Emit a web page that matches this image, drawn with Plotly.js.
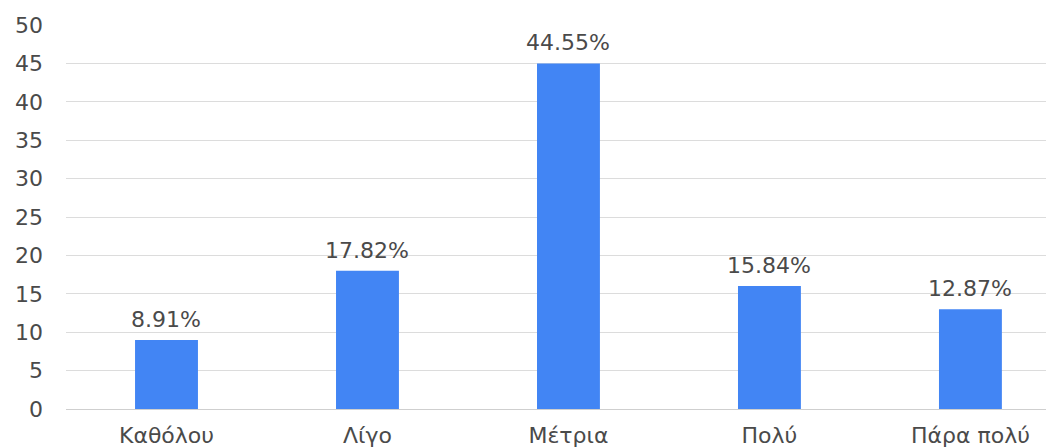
<!DOCTYPE html>
<html>
<head>
<meta charset="utf-8">
<script src="https://cdn.plot.ly/plotly-3.0.1.min.js"></script>
<style>html,body{margin:0;padding:0;overflow:hidden;background:#fff;}#chart{width:1046px;height:447px;}</style>
</head>
<body>
<div id="chart"></div>
<script>
const categories = ["Καθόλου", "Λίγο", "Μέτρια", "Πολύ", "Πάρα πολύ"];
const counts = [9, 18, 45, 16, 13];
const percentLabels = ["8.91%", "17.82%", "44.55%", "15.84%", "12.87%"];
const yTicks = [0, 5, 10, 15, 20, 25, 30, 35, 40, 45, 50];

const font = "DejaVu Sans, Arial, sans-serif";
const textColor = "#4a4a4a";

const trace = {
  type: "bar",
  x: categories,
  y: counts,
  marker: {color: "#4285F4"},
  hoverinfo: "none"
};

const annotations = categories.map((c, i) => ({
  x: c, y: counts[i], xref: "x", yref: "y",
  text: percentLabels[i], showarrow: false,
  yanchor: "bottom", yshift: 6,
  font: {family: font, size: 22, color: textColor}
}));

const layout = {
  width: 1046, height: 447,
  margin: {l: 66, r: 0, t: 25, b: 38},
  paper_bgcolor: "#fff", plot_bgcolor: "#fff",
  showlegend: false,
  bargap: 0.687,
  xaxis: {
    type: "category",
    range: [-0.5, 4.376],
    showgrid: false, zeroline: false, showline: false,
    ticks: "", ticklabelstandoff: 11,
    tickfont: {family: font, size: 22, color: textColor}
  },
  yaxis: {
    range: [0, 50],
    tickvals: yTicks,
    showgrid: true, gridcolor: "#dcdcdc", gridwidth: 1,
    zeroline: true, zerolinecolor: "#cfcfcf", zerolinewidth: 1,
    showline: false, ticks: "",
    ticklabelstandoff: 22,
    tickfont: {family: font, size: 22, color: textColor}
  },
  annotations: annotations
};

Plotly.newPlot("chart", [trace], layout, {displayModeBar: false, staticPlot: true});
</script>
</body>
</html>
